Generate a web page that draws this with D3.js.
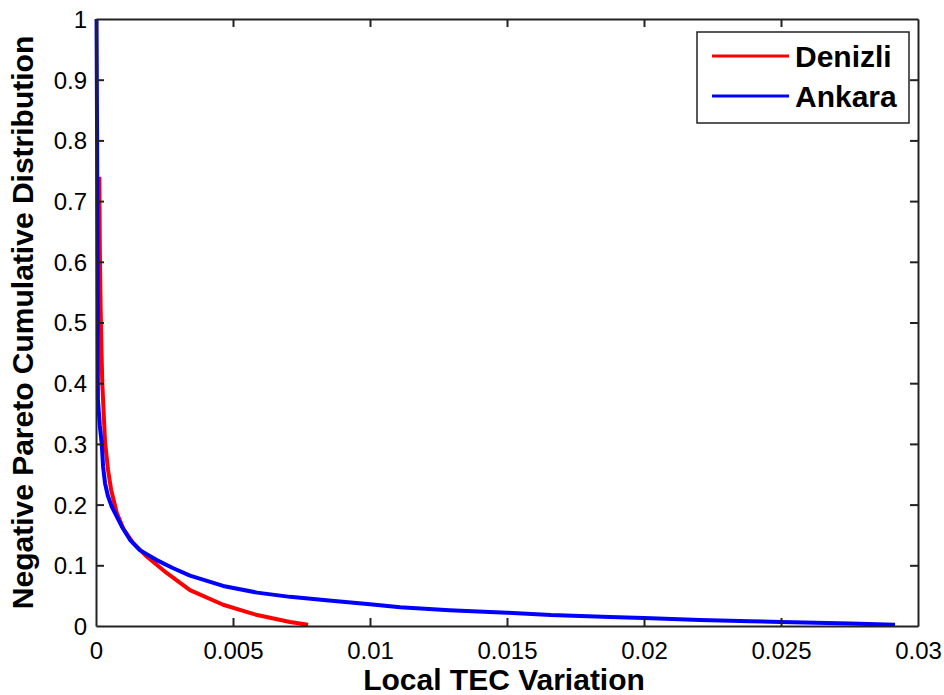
<!DOCTYPE html>
<html>
<head>
<meta charset="utf-8">
<script src="https://cdn.jsdelivr.net/npm/d3@7/dist/d3.min.js"></script>
<style>
  html, body { margin: 0; padding: 0; background: #fff; }
  svg { display: block; }
  text { font-family: "Liberation Sans", Arial, Helvetica, sans-serif; fill: #000; }
</style>
</head>
<body>
<svg id="chart" width="944" height="695"></svg>
<script>
// Local TEC variation (x) vs. negative Pareto cumulative distribution (y)
const denizliX = [0.00012, 0.00014, 0.00017, 0.00020, 0.00023, 0.00033, 0.00044, 0.00055, 0.00076, 0.00100, 0.00135, 0.00186, 0.00259, 0.00343, 0.00464, 0.00588, 0.00708, 0.00774];
const denizliY = [0.74,    0.62,    0.52,    0.455,   0.40,    0.303,   0.257,   0.225,   0.186,   0.160,   0.137,   0.114,   0.087,   0.059,   0.035,   0.018,   0.0066,  0.002];

const ankaraX = [0.00002, 0.00004, 0.00006, 0.00007, 0.00014, 0.00021, 0.00026, 0.00033, 0.00043, 0.00057, 0.00094, 0.00124, 0.00160, 0.00220, 0.00280, 0.00343, 0.00464, 0.00588, 0.00708, 0.00850, 0.01000, 0.01110, 0.01290, 0.01500, 0.01660, 0.01876, 0.02000, 0.02205, 0.02387, 0.02500, 0.02752, 0.02916];
const ankaraY = [1.00,    0.80,    0.55,    0.372,   0.33,    0.300,   0.262,   0.235,   0.215,   0.197,   0.164,   0.142,   0.125,   0.109,   0.0955,  0.083,   0.066,   0.055,   0.048,   0.042,   0.036,   0.031,   0.026,   0.022,   0.018,   0.015,   0.013,   0.010,   0.008,   0.0066,  0.004,   0.002];

const xTicks = [0, 0.005, 0.01, 0.015, 0.02, 0.025, 0.03];
const xTickLabels = ["0", "0.005", "0.01", "0.015", "0.02", "0.025", "0.03"];
const yTicks = [0, 0.1, 0.2, 0.3, 0.4, 0.5, 0.6, 0.7, 0.8, 0.9, 1];
const yTickLabels = ["0", "0.1", "0.2", "0.3", "0.4", "0.5", "0.6", "0.7", "0.8", "0.9", "1"];

const seriesNames = ["Denizli", "Ankara"];
const seriesColors = ["#ff0000", "#0000ff"];

const svg = d3.select("#chart");
const L = 96, R = 918, T = 19, B = 626;

const x = d3.scaleLinear().domain([0, 0.03]).range([L, R]);
const y = d3.scaleLinear().domain([0, 1]).range([B, T]);

const tickLen = 8;
const axisColor = "#222";

// Series
const line = d3.line().x(d => x(d[0])).y(d => y(d[1]));
const series = [
  d3.zip(denizliX, denizliY),
  d3.zip(ankaraX, ankaraY)
];
const lineW = 4;
svg.append("g").selectAll("path")
  .data(series)
  .join("path")
  .attr("d", line)
  .attr("fill", "none")
  .attr("stroke", (d, i) => seriesColors[i])
  .attr("stroke-width", lineW)
  .attr("stroke-linejoin", "round");

// Axes box with inward ticks on all four sides
const axes = svg.append("g");
const axBottom = axes.append("g").attr("transform", `translate(0,${B})`)
  .call(d3.axisBottom(x).tickValues(xTicks).tickFormat((d, i) => xTickLabels[i]).tickSizeInner(-tickLen).tickSizeOuter(0).tickPadding(16));
const axTop = axes.append("g").attr("transform", `translate(0,${T})`)
  .call(d3.axisTop(x).tickValues(xTicks).tickFormat("").tickSizeInner(-tickLen).tickSizeOuter(0));
const axLeft = axes.append("g").attr("transform", `translate(${L},0)`)
  .call(d3.axisLeft(y).tickValues(yTicks).tickFormat((d, i) => yTickLabels[i]).tickSizeInner(-tickLen).tickSizeOuter(0).tickPadding(17));
const axRight = axes.append("g").attr("transform", `translate(${R},0)`)
  .call(d3.axisRight(y).tickValues(yTicks).tickFormat("").tickSizeInner(-tickLen).tickSizeOuter(0));

axes.selectAll(".domain").attr("stroke", axisColor).attr("stroke-width", 2);
axes.selectAll(".tick line").attr("stroke", axisColor).attr("stroke-width", 2);
axes.selectAll(".tick text")
  .style("font-family", "'Liberation Sans', Arial, sans-serif")
  .style("font-size", "24px")
  .attr("fill", "#000");
axBottom.selectAll(".tick text").attr("dy", "0.71em");
axLeft.selectAll(".tick text").attr("dy", "0.35em").attr("x", -9);

// Corner ticks coincide with the box lines
axes.selectAll(".tick line").filter(function(d) {
  return d === 0 || d === 1 || d === 0.03;
}).attr("stroke-opacity", 0);

// Axis titles
svg.append("text")
  .attr("x", 504).attr("y", 690)
  .attr("text-anchor", "middle")
  .style("font-size", "30px").style("font-weight", "bold")
  .text("Local TEC Variation");

svg.append("text")
  .attr("transform", `translate(33,${(T + B) / 2}) rotate(-90)`)
  .attr("text-anchor", "middle")
  .style("font-size", "30px").style("font-weight", "bold")
  .text("Negative Pareto Cumulative Distribution");

// Legend
const lg = svg.append("g");
lg.append("rect")
  .attr("x", 697).attr("y", 32).attr("width", 212).attr("height", 91)
  .attr("fill", "#fff").attr("stroke", axisColor).attr("stroke-width", 1.5);
const rows = [56, 96];
seriesNames.forEach((name, i) => {
  lg.append("line")
    .attr("x1", 712).attr("x2", 789)
    .attr("y1", rows[i]).attr("y2", rows[i])
    .attr("stroke", seriesColors[i]).attr("stroke-width", 3);
  lg.append("text")
    .attr("x", 795).attr("y", rows[i] + 11)
    .style("font-size", "30px").style("font-weight", "bold")
    .text(name);
});
</script>
</body>
</html>
